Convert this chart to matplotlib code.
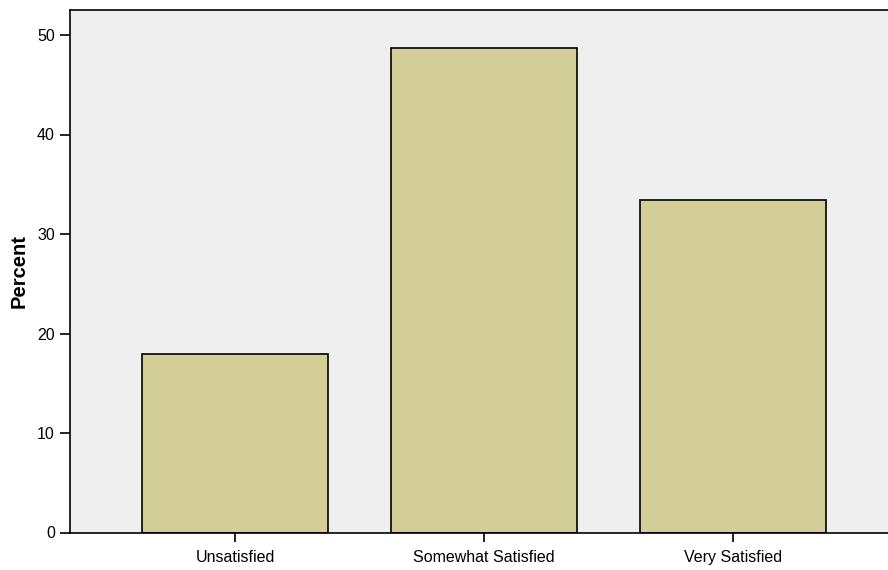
import matplotlib
matplotlib.use("Agg")
import matplotlib.pyplot as plt

categories = ["Unsatisfied", "Somewhat Satisfied", "Very Satisfied"]
percents = [17.9, 48.7, 33.4]
yticks = [0, 10, 20, 30, 40, 50]

plt.rcParams['font.family'] = ['Liberation Sans', 'DejaVu Sans']

W, H = 888, 570
fig = plt.figure(figsize=(W/100, H/100), dpi=100)
ax = fig.add_axes([69.5/W, (H-532.5)/H, 829/W, (532.5-9.5)/H])
ax.set_facecolor("#EFEFEF")

x = list(range(len(categories)))
ax.bar(x, percents, width=0.75, color="#D3CE98", edgecolor="black", linewidth=1.2, zorder=2)

ax.set_xlim(-0.665, 2.665)
ax.set_ylim(0, (532.5-9.5)/9.95)
ax.set_yticks(yticks)
ax.set_yticklabels([str(t) for t in yticks], fontsize=11.5)
ax.set_xticks(x)
ax.set_xticklabels(categories, fontsize=11.5)
ax.tick_params(axis='y', length=7.5, width=1.2, pad=3)
ax.tick_params(axis='x', length=6.5, width=1.2, pad=6)
ax.set_ylabel("Percent", fontsize=14.5, fontweight="bold", labelpad=6)
for s in ["left", "top", "bottom"]:
    ax.spines[s].set_linewidth(1.2)
ax.spines["right"].set_visible(False)

fig.savefig("out.png", dpi=100)
